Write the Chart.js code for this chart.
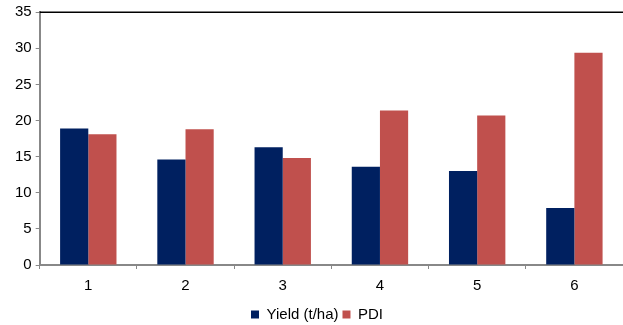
<!DOCTYPE html>
<html>
<head>
<meta charset="utf-8">
<script src="https://cdn.jsdelivr.net/npm/chart.js@4/dist/chart.umd.min.js"></script>
<style>
  html, body { margin: 0; padding: 0; background: #fff; }
  #wrap { width: 623px; height: 325px; position: relative; }
</style>
</head>
<body>
<div id="wrap"><canvas id="chart"></canvas></div>
<script>
const categories = ['1', '2', '3', '4', '5', '6'];
const yieldValues = [18.9, 14.6, 16.3, 13.6, 13.0, 7.9];
const pdiValues = [18.1, 18.8, 14.8, 21.4, 20.7, 29.4];
const yTicks = [0, 5, 10, 15, 20, 25, 30, 35];

// thin black rule along the top of the plot area
const topBorder = {
    id: 'topBorder',
    afterDraw(chart) {
        const { ctx, chartArea } = chart;
        ctx.save();
        ctx.strokeStyle = '#000';
        ctx.lineWidth = 1.5;
        ctx.beginPath();
        ctx.moveTo(chartArea.left, chartArea.top);
        ctx.lineTo(chart.width, chartArea.top);
        ctx.stroke();
        ctx.restore();
    }
};

Chart.defaults.font.family = 'Arial, "Liberation Sans", sans-serif';
Chart.defaults.font.size = 15;
Chart.defaults.color = '#000';

new Chart(document.getElementById('chart').getContext('2d'), {
    type: 'bar',
    data: {
        labels: categories,
        datasets: [{
            label: 'Yield (t/ha)',
            data: yieldValues,
            backgroundColor: '#002060'
        }, {
            label: 'PDI',
            data: pdiValues,
            backgroundColor: '#C0504D'
        }]
    },
    options: {
        responsive: true,
        maintainAspectRatio: false,
        animation: false,
        datasets: {
            bar: { barPercentage: 1, categoryPercentage: 0.58 }
        },
        // legend sits low, so the bottom padding is pulled in
        layout: { padding: { top: 1, right: 0, left: 11, bottom: -7 } },
        scales: {
            x: {
                offset: true,
                grid: { offset: true, drawOnChartArea: false, tickLength: 4, color: '#888' },
                border: { color: '#888', width: 2 },
                ticks: { padding: 8 }
            },
            y: {
                min: 0,
                max: 35,
                afterBuildTicks(axis) {
                    axis.ticks = yTicks.map(v => ({ value: v }));
                },
                grid: { drawOnChartArea: false, tickLength: 4, color: '#888' },
                border: { color: '#888', width: 2 },
                ticks: { padding: 4, font: { lineHeight: 1.1 } }
            }
        },
        plugins: {
            legend: {
                position: 'bottom',
                labels: { boxWidth: 8, boxHeight: 8, padding: 4 }
            },
            tooltip: { enabled: false }
        }
    },
    plugins: [topBorder]
});
</script>
</body>
</html>
